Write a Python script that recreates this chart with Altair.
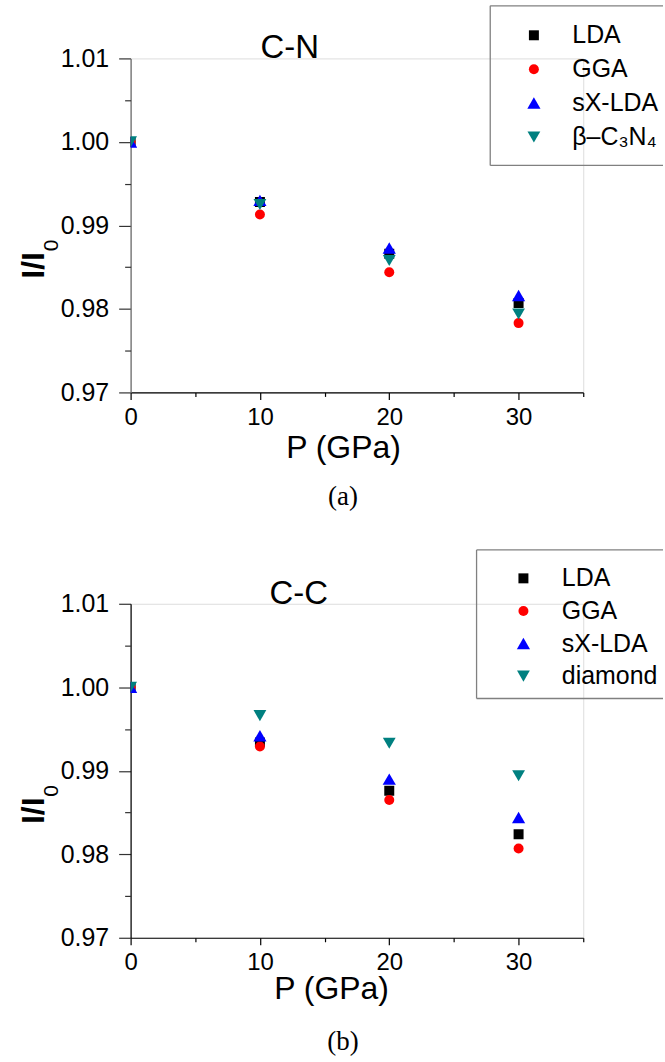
import altair as alt
import pandas as pd

# Pressure points (GPa)
pressure = [0, 10, 20, 30]

# C-N bond: relative bond length I/I0 under pressure
series_cn = ["LDA", "GGA", "sX-LDA", "β–C₃N₄"]
cn_lda = [1.0, 0.9928, 0.9866, 0.9807]
cn_gga = [1.0, 0.9913, 0.9844, 0.9783]
cn_sx = [1.0, 0.9930, 0.9873, 0.9816]
cn_beta = [1.0, 0.9925, 0.9858, 0.9794]

# C-C bond
series_cc = ["LDA", "GGA", "sX-LDA", "diamond"]
cc_lda = [1.0, 0.9934, 0.9876, 0.9824]
cc_gga = [1.0, 0.9929, 0.9865, 0.9807]
cc_sx = [1.0, 0.9942, 0.9890, 0.9844]
cc_diamond = [1.0, 0.9966, 0.9933, 0.9894]

# Axis ticks
x_major = [0, 10, 20, 30]
x_minor = [5, 15, 25, 35]
y_major = [0.97, 0.98, 0.99, 1.00, 1.01]
y_minor = [0.975, 0.985, 0.995, 1.005]

# Marker styling per series (same order as the series lists)
colors = ["#000000", "#ff0000", "#0000ff", "#008080"]
shapes = ["square", "circle", "triangle-up", "triangle-down"]
sizes = [100, 100, 175, 165]

W, H = 454, 335
FONT = "Liberation Sans"
ONE = alt.Data(values=[{}])


def long_table(series, values):
    rows = []
    for name, vals in zip(series, values):
        for p, v in zip(pressure, vals):
            rows.append({"P": p, "ratio": v, "series": name})
    return pd.DataFrame(rows)


def box_rule(x, x2, y, y2):
    return alt.Chart(ONE).mark_rule(color="#808080", strokeWidth=1.3).encode(
        x=alt.value(x), x2=alt.value(x2), y=alt.value(y), y2=alt.value(y2)
    )


def panel(series, values, title, title_x, caption, legend_xy, row_pad, box,
          xtitle_xy, ydomain_color, anchor=False):
    df = long_table(series, values)
    xs = alt.Scale(domain=[0, 35], nice=False, zero=False)
    ys = alt.Scale(domain=[0.97, 1.01], nice=False, zero=False)

    legend = alt.Legend(
        orient="none", legendX=legend_xy[0], legendY=legend_xy[1], title=None,
        labelFont=FONT, labelFontSize=25, labelColor="black", labelOffset=26,
        rowPadding=row_pad, padding=0, symbolSize=90, symbolStrokeWidth=0,
        symbolOpacity=1,
    )

    points = alt.Chart(df).mark_point(filled=True, opacity=1, clip=True).encode(
        x=alt.X("P:Q", scale=xs, axis=alt.Axis(
            orient="bottom", values=x_major, format="d", grid=False,
            title="P (GPa)", titleFont=FONT, titleFontSize=32,
            titleFontWeight="normal", titleColor="black",
            titleX=xtitle_xy[0], titleY=xtitle_xy[1], titleAlign="center",
            titleBaseline="alphabetic",
            labelFont=FONT, labelFontSize=24, labelColor="black",
            labelPadding=6, labelFlush=False, labelOverlap=False,
            tickSize=7, tickColor="black", tickWidth=1.2,
            domainColor="black", domainWidth=1.2)),
        y=alt.Y("ratio:Q", scale=ys, axis=alt.Axis(
            orient="left", values=y_major, format=".2f", grid=False, title=None,
            labelFont=FONT, labelFontSize=25, labelColor="black",
            labelPadding=10, labelFlush=False, labelOverlap=False,
            tickSize=12, tickColor="#333333", tickWidth=1.2,
            domainColor=ydomain_color, domainWidth=1.2)),
        color=alt.Color("series:N", scale=alt.Scale(domain=series, range=colors),
                        legend=legend),
        shape=alt.Shape("series:N", scale=alt.Scale(domain=series, range=shapes),
                        legend=legend),
        size=alt.Size("series:N",
                      scale=alt.Scale(type="ordinal", domain=series, range=sizes),
                      legend=None),
        order=alt.Order("order:Q"),
    ).transform_calculate(
        order="indexof(" + str(series) + ", datum.series)"
    )

    # minor ticks on both axes
    minor = alt.Chart(df).mark_point(opacity=0).encode(
        x=alt.X("P:Q", scale=xs, axis=alt.Axis(
            orient="bottom", values=x_minor, labels=False, title=None,
            domain=False, grid=False, tickSize=4, tickColor="black",
            tickWidth=1.2)),
        y=alt.Y("ratio:Q", scale=ys, axis=alt.Axis(
            orient="left", values=y_minor, labels=False, title=None,
            domain=False, grid=False, tickSize=6, tickColor="#333333",
            tickWidth=1.2)),
    )

    head = alt.Chart(pd.DataFrame({"P": [title_x], "ratio": [1.01],
                                   "label": [title]})).mark_text(
        font=FONT, fontSize=33, align="center", baseline="alphabetic",
        color="black",
    ).encode(
        x=alt.X("P:Q", scale=xs, axis=None),
        y=alt.Y("ratio:Q", scale=ys, axis=None),
        text="label:N",
    )

    # rotated y title I/I0 with subscript
    ytitle = alt.Chart(ONE).mark_text(
        text="I/I", font=FONT, fontWeight="bold", fontSize=32, angle=270,
        align="right", baseline="alphabetic", color="black",
    ).encode(x=alt.value(-86.7), y=alt.value(194.3))
    ysub = alt.Chart(ONE).mark_text(
        text="0", font=FONT, fontSize=21, angle=270,
        align="left", baseline="alphabetic", color="black",
    ).encode(x=alt.value(-73.3), y=alt.value(193.5))

    cap = alt.Chart(ONE).mark_text(
        text=caption, font="Liberation Serif", fontSize=27, align="center",
        baseline="alphabetic", color="black",
    ).encode(x=alt.value(213), y=alt.value(H + 113))

    bx, by0, by1 = box
    layers = [points, minor, head, ytitle, ysub, cap,
              box_rule(bx, 534, by0, by0),
              box_rule(bx, bx, by0, by1),
              box_rule(bx, 534, by1, by1)]
    if anchor:
        layers.append(alt.Chart(ONE).mark_rule(opacity=0, strokeWidth=0.1).encode(
            x=alt.value(-130), x2=alt.value(-130),
            y=alt.value(-55.7), y2=alt.value(0)))

    return alt.layer(*layers).resolve_axis(
        x="independent", y="independent"
    ).properties(width=W, height=H)


top = panel(series_cn, [cn_lda, cn_gga, cn_sx, cn_beta], "C-N", 12.3, "(a)",
            (392.0, -35.7), 8, (360.7, -52.7, 107.3), (213, 65.7), "#666666",
            anchor=True)
bottom = panel(series_cc, [cc_lda, cc_gga, cc_sx, cc_diamond], "C-C", 13.0, "(b)",
               (381.5, -38.0), 6.7, (347, -54, 95), (201, 61), "#000000")

chart = alt.vconcat(top, bottom, spacing=212, bounds="flush").resolve_scale(
    color="independent", shape="independent", size="independent"
).resolve_legend(
    color="independent", shape="independent", size="independent"
).properties(
    padding={"left": 0, "top": 0, "right": 0, "bottom": 0}
).configure_view(stroke=None).configure(background="white")

chart.save("out.html", embed_options={"renderer": "svg", "actions": False})
